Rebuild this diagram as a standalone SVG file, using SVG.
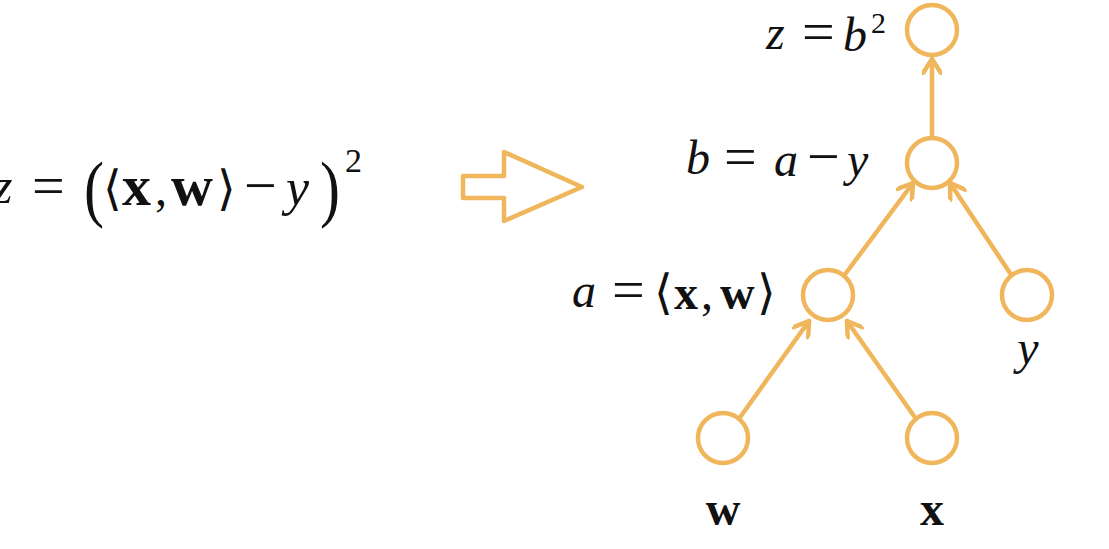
<svg xmlns="http://www.w3.org/2000/svg" width="1109" height="549" viewBox="0 0 1109 549">
<style>
.n{fill:none;stroke:#EFB65C;stroke-width:4.5}
.e{fill:none;stroke:#EFB65C;stroke-width:4.5;stroke-linecap:round}
.t{font-family:"Liberation Serif","DejaVu Serif",serif;font-size:48px;fill:#111}
.i{font-style:italic}
.b{font-weight:bold}
.op{font-size:58px}
.par{font-size:75px}
</style>
<defs>
<marker id="ah" viewBox="0 0 20 20" refX="17" refY="10" markerWidth="20" markerHeight="20" markerUnits="userSpaceOnUse" orient="auto">
<path d="M3,1 L17,10 L3,19" fill="none" stroke="#EFB65C" stroke-width="4.5" stroke-linecap="round" stroke-linejoin="round"/>
</marker>
</defs>
<rect width="1109" height="549" fill="#fff"/>
<g id="formula">
<text class="t" y="203"><tspan class="i" x="-7" style="font-size:50px">z</tspan><tspan class="op" x="32" y="205">=</tspan><tspan x="103">⟨</tspan><tspan class="b" x="122" style="font-size:58px">x</tspan><tspan x="155">,</tspan><tspan class="b" x="171" style="font-size:58px">w</tspan><tspan x="217">⟩</tspan><tspan class="op" x="244" y="205">−</tspan><tspan class="i" x="286" style="font-size:52px">y</tspan></text>
<text class="t par" transform="translate(84,213) scale(0.8,1)">(</text>
<text class="t par" transform="translate(320,213) scale(0.8,1)">)</text>
<text class="t" x="345" y="172" style="font-size:34px">2</text>
</g>
<g id="bigarrow">
<polygon class="n" points="463,176 504,176 504,152 582,187 504,221 504,198 463,198" stroke-linejoin="round"/>
</g>
<g id="connectors">
<line class="e" x1="932" y1="137" x2="932" y2="59" marker-end="url(#ah)"/>
<line class="e" x1="846" y1="273" x2="913" y2="183" marker-end="url(#ah)"/>
<line class="e" x1="1010" y1="273" x2="950" y2="183" marker-end="url(#ah)"/>
<line class="e" x1="741" y1="416" x2="809" y2="321" marker-end="url(#ah)"/>
<line class="e" x1="914" y1="416" x2="847" y2="321" marker-end="url(#ah)"/>
</g>
<g id="node-z">
<circle class="n" cx="932" cy="30" r="25"/>
<text class="t" y="49"><tspan class="i" x="766">z</tspan><tspan class="op" x="802" y="51">=</tspan><tspan class="i" x="843">b</tspan></text>
<text class="t" x="871" y="33" style="font-size:30px">2</text>
</g>
<g id="node-b">
<circle class="n" cx="932" cy="163" r="25"/>
<text class="t" y="174"><tspan class="i" x="686">b</tspan><tspan class="op" x="724" y="176">=</tspan><tspan class="i" x="774">a</tspan><tspan class="op" x="807" y="176">−</tspan><tspan class="i" x="847">y</tspan></text>
</g>
<g id="node-a">
<circle class="n" cx="828" cy="295" r="25"/>
<text class="t" y="307"><tspan class="i" x="572">a</tspan><tspan class="op" x="612" y="309">=</tspan><tspan x="654">⟨</tspan><tspan class="b" x="674">x</tspan><tspan x="701">,</tspan><tspan class="b" x="720">w</tspan><tspan x="757">⟩</tspan></text>
</g>
<g id="node-y">
<circle class="n" cx="1027" cy="295" r="25"/>
<text class="t i" x="1028" y="364" text-anchor="middle">y</text>
</g>
<g id="node-w">
<circle class="n" cx="723" cy="438" r="25"/>
<text class="t b" x="723" y="525" text-anchor="middle">w</text>
</g>
<g id="node-x">
<circle class="n" cx="932" cy="438" r="25"/>
<text class="t b" x="932" y="525" text-anchor="middle">x</text>
</g>
</svg>
